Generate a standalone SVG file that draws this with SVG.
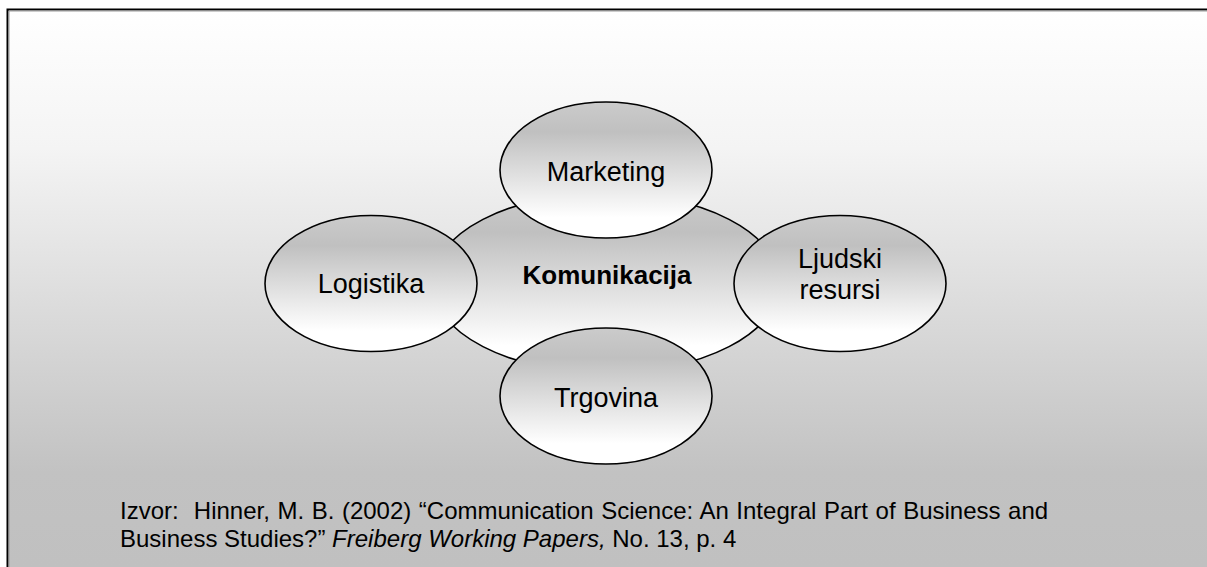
<svg xmlns="http://www.w3.org/2000/svg" width="1207" height="567" viewBox="0 0 1207 567">
  <style>
    .node { stroke: #000; stroke-width: 1.6; fill: url(#nodeFill); }
    .lbl { font-family: "Liberation Sans", Arial, sans-serif; font-size: 27px; fill: #000; text-anchor: middle; }
    .bold { font-weight: bold; font-size: 26px; }
    .src { font-family: "Liberation Sans", Arial, sans-serif; font-size: 24px; fill: #000; }
  </style>
  <defs>
    <linearGradient id="bgFill" x1="0" y1="9" x2="0" y2="567" gradientUnits="userSpaceOnUse">
      <stop offset="0" stop-color="#ffffff"/>
      <stop offset="0.25" stop-color="#f4f4f4"/>
      <stop offset="0.83" stop-color="#c2c2c2"/>
      <stop offset="1" stop-color="#c0c0c0"/>
    </linearGradient>
    <linearGradient id="nodeFill" x1="0" y1="0" x2="0" y2="1">
      <stop offset="0" stop-color="#cbcbcb"/>
      <stop offset="0.22" stop-color="#c0c0c0"/>
      <stop offset="0.85" stop-color="#ffffff"/>
      <stop offset="1" stop-color="#ffffff"/>
    </linearGradient>
  </defs>

  <!-- framed panel -->
  <rect x="0" y="0" width="1207" height="567" fill="#ffffff"/>
  <rect x="7" y="9" width="1210" height="570" fill="url(#bgFill)"/>
  <path d="M7.5 579 V9.5 H1210" fill="none" stroke="#000" stroke-width="2"/>
  <path d="M9 579 V11 H1210" fill="none" stroke="#9a9a9a" stroke-width="1"/>

  <g id="connectors"/>

  <!-- central node -->
  <g id="komunikacija">
    <ellipse class="node" cx="606" cy="283" rx="174" ry="90"/>
    <text class="lbl bold" x="607" y="284">Komunikacija</text>
  </g>

  <g id="marketing">
    <ellipse class="node" cx="606" cy="170" rx="106" ry="68"/>
    <text class="lbl" x="606" y="181">Marketing</text>
  </g>

  <g id="logistika">
    <ellipse class="node" cx="371" cy="283.5" rx="106" ry="68"/>
    <text class="lbl" x="371" y="293">Logistika</text>
  </g>

  <g id="ljudski-resursi">
    <ellipse class="node" cx="840" cy="283.5" rx="106" ry="68"/>
    <text class="lbl" x="840" y="268">Ljudski</text>
    <text class="lbl" x="840" y="299">resursi</text>
  </g>

  <g id="trgovina">
    <ellipse class="node" cx="606" cy="396" rx="106" ry="68"/>
    <text class="lbl" x="606" y="407">Trgovina</text>
  </g>

  <!-- source note -->
  <g id="izvor">
    <text class="src" x="120" y="519" xml:space="preserve" word-spacing="0.9">Izvor:  Hinner, M. B. (2002) “Communication Science: An Integral Part of Business and</text>
    <text class="src" x="120" y="547">Business Studies?” <tspan font-style="italic">Freiberg Working Papers,</tspan> No. 13, p. 4</text>
  </g>
</svg>
